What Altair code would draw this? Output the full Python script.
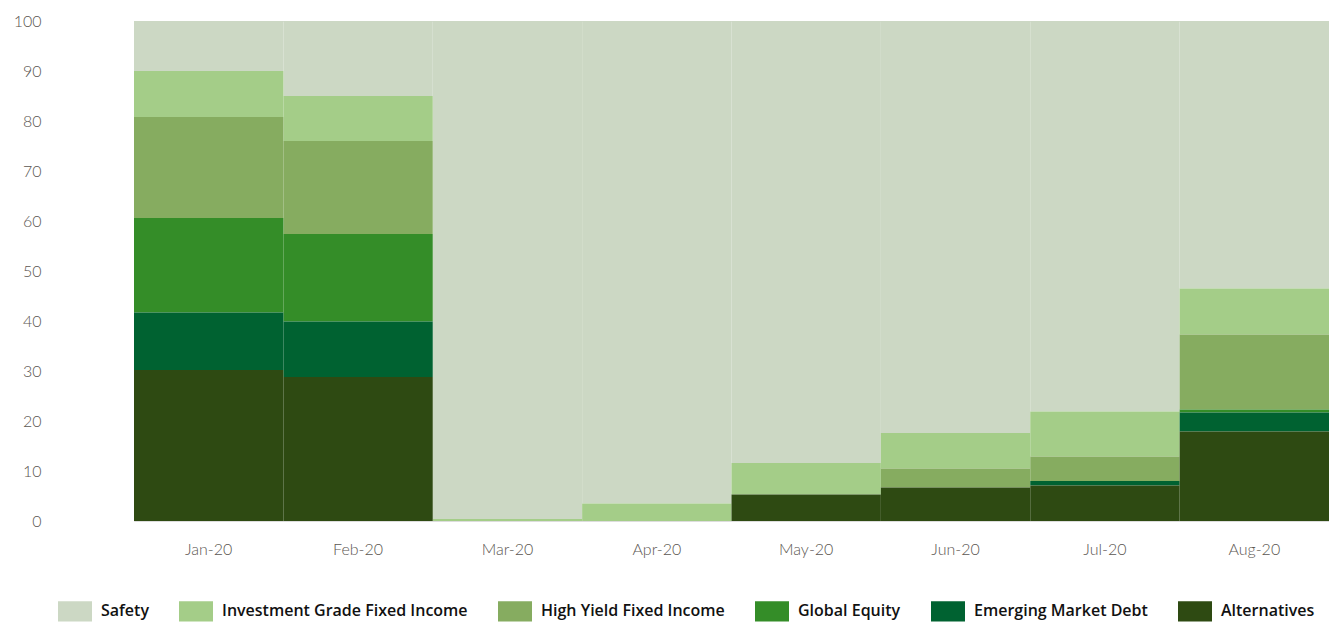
import altair as alt
import pandas as pd

months = ["Jan-20", "Feb-20", "Mar-20", "Apr-20", "May-20", "Jun-20", "Jul-20", "Aug-20"]
series = ["Safety", "Investment Grade Fixed Income", "High Yield Fixed Income",
          "Global Equity", "Emerging Market Debt", "Alternatives"]
colors = ["#CCD8C4", "#A4CD88", "#86AC60", "#348D28", "#006231", "#2E4A12"]

safety = [10.0, 15.0, 99.6, 96.5, 88.4, 82.4, 78.1, 53.5]
inv_grade = [9.2, 9.0, 0.4, 3.5, 6.3, 7.1, 9.0, 9.2]
high_yield = [20.2, 18.6, 0.0, 0.0, 0.0, 3.8, 4.9, 15.0]
global_equity = [18.9, 17.5, 0.0, 0.0, 0.0, 0.0, 0.0, 0.6]
emd = [11.5, 11.1, 0.0, 0.0, 0.0, 0.0, 0.9, 3.8]
alternatives = [30.2, 28.8, 0.0, 0.0, 5.3, 6.7, 7.1, 17.9]

values = [safety, inv_grade, high_yield, global_equity, emd, alternatives]
rows = []
for si, (name, vals) in enumerate(zip(series, values)):
    for m, v in zip(months, vals):
        rows.append({"month": m, "series": name, "value": v, "order": len(series) - si})
df = pd.DataFrame(rows)

rect_path = "M-1,-0.6L1,-0.6L1,0.6L-1,0.6Z"

chart = alt.Chart(df).mark_bar(strokeWidth=0).encode(
    x=alt.X("month:N", sort=months, title=None,
            scale=alt.Scale(paddingInner=0, paddingOuter=0),
            axis=alt.Axis(labelAngle=0, ticks=False, domain=False, labelPadding=20,
                          labelFont="Lato", labelFontWeight=300, labelFontSize=16,
                          labelColor="#5b5651")),
    y=alt.Y("value:Q", stack="zero", title=None,
            scale=alt.Scale(domain=[0, 100], nice=False),
            axis=alt.Axis(values=list(range(0, 101, 10)), ticks=False, domain=False, grid=False,
                          labelPadding=93, labelFont="Lato", labelFontWeight=300,
                          labelFontSize=16, labelColor="#5b5651")),
    color=alt.Color("series:N", title=None,
                    scale=alt.Scale(domain=series, range=colors),
                    legend=alt.Legend(orient="none", legendX=-76, legendY=573,
                                      direction="horizontal", symbolType=rect_path,
                                      symbolSize=1156, symbolStrokeWidth=0, symbolOpacity=1,
                                      labelFont="Open Sans", labelFontWeight=600,
                                      labelFontSize=16, labelColor="#111111",
                                      labelOffset=9, columnPadding=30, labelLimit=400)),
    order=alt.Order("order:Q", sort="ascending"),
).properties(
    width=1195, height=500,
    autosize=alt.AutoSizeParams(type="none"),
    padding={"left": 126, "top": 13, "right": 0, "bottom": 101},
).configure_view(stroke=None).configure(background="white")

chart.save("out.html", embed_options={"renderer": "svg", "actions": False})
